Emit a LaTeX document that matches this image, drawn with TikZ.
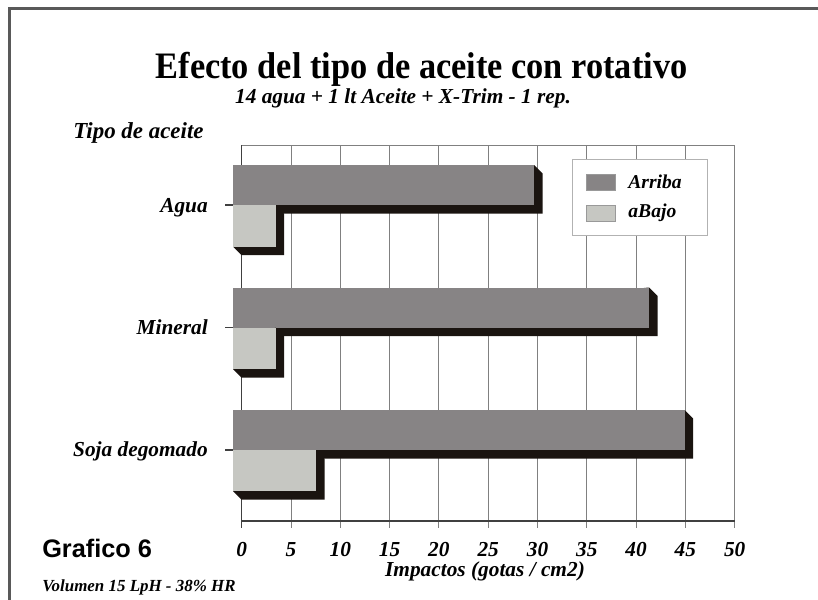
\documentclass[tikz,border=0pt]{standalone}
\usepackage{fontspec}
\setmainfont{Liberation Serif}
\newfontfamily\sansnegrita{Liberation Sans}
\newfontfamily\condensada[FakeStretch=0.92]{Liberation Serif}
\usetikzlibrary{positioning}
\definecolor{colorArriba}{RGB}{135,132,133}
\definecolor{colorAbajo}{RGB}{198,199,194}
\definecolor{colorSombra}{RGB}{26,20,16}
\tikzstyle{etiqueta} = [font=\bfseries\itshape\fontsize{16}{18}\selectfont, inner sep=0pt]
\tikzstyle{rejilla} = [draw=black!50, line width=0.7pt]
\tikzstyle{eje} = [draw=black!75, line width=0.9pt]
\tikzstyle{muestra} = [draw=black!40, line width=0.4pt, minimum width=21.2pt, minimum height=12pt, inner sep=0pt]
% barra 3D: x0, y0, x1, y1, color
\newcommand{\barra}[5]{%
  \fill[colorSombra] (#3,#2) -- ++(8.7,8.7) -- (#3+8.7,#4+8.7) -- (#1+8.7,#4+8.7) -- (#1,#4) -- cycle;
  \fill[#5] (#1,#2) rectangle (#3,#4);
}

\begin{document}
\begin{tikzpicture}[x=0.75pt, y=-0.75pt]
        \useasboundingbox (0,0) rectangle (818,600);

        % Marco
        \draw[black!65, line width=1.6pt] (9.5,600) -- (9.5,8.5) -- (818,8.5);

        % Titulos
        \node (titulo) [inner sep=0pt, anchor=base, font=\condensada\bfseries\fontsize{28}{30}\selectfont] at (421.5,78) {Efecto del tipo de aceite con rotativo};
        \node (subtitulo) [etiqueta, anchor=base] at (403,103) {14 agua + 1 lt Aceite + X-Trim - 1 rep.};
        \node (tipo) [etiqueta, anchor=base west, font=\bfseries\itshape\fontsize{17.2}{19}\selectfont] at (73,138) {Tipo de aceite};

        % Rejilla y ejes
        \foreach \v in {5,10,...,45}
            \draw[rejilla] ({241.7+9.86*\v},145) -- ({241.7+9.86*\v},528);
        \draw[rejilla] (734.7,145) -- (734.7,528);
        \draw[rejilla] (241.7,145) -- (734.7,145);
        \draw[eje] (241.7,145) -- (241.7,528);
        \draw[eje] (241.7,521) -- (734.7,521);
        \foreach \c in {205,327.5,450}
            \draw[eje] (225,\c) -- (241.7,\c);

        % Barras
        \barra{233}{165}{534}{205}{colorArriba}
        \barra{233}{205}{275.5}{246.5}{colorAbajo}
        \barra{233}{287.5}{649}{327.5}{colorArriba}
        \barra{233}{327.5}{275.5}{369}{colorAbajo}
        \barra{233}{410}{684.5}{450}{colorArriba}
        \barra{233}{450}{316}{491}{colorAbajo}

        % Categorias
        \node (agua) [etiqueta, anchor=base east] at (208,212.5) {Agua};
        \node (mineral) [etiqueta, anchor=base east] at (208,334) {Mineral};
        \node (soja) [etiqueta, anchor=base east] at (208,456.5) {Soja degomado};

        % Eje X
        \foreach \v in {0,5,...,50}
            \node (n\v) [etiqueta, anchor=base] at ({241.7+9.86*\v},556) {\v};
        \node (impactos) [etiqueta, anchor=base] at (485,576) {Impactos (gotas / cm2)};

        % Leyenda
        \node (leyenda) [draw=black!30, fill=white, line width=0.6pt, minimum width=101pt, minimum height=57pt] at (640,197) {};
        \node (mArriba) [muestra, fill=colorArriba] at (600.8,182) {};
        \node (mAbajo) [muestra, fill=colorAbajo] at (600.8,212.9) {};
        \node (arriba) [right=9.7pt of mArriba, inner sep=0pt, font=\bfseries\itshape\fontsize{14.7}{16}\selectfont] {Arriba};
        \node (abajo) [right=9.7pt of mAbajo, inner sep=0pt, font=\bfseries\itshape\fontsize{14.7}{16}\selectfont] {aBajo};

        % Pie
        \node (grafico) [inner sep=0pt, anchor=base west, font=\sansnegrita\bfseries\fontsize{19}{21}\selectfont] at (42,557) {Grafico 6};
        \node (volumen) [inner sep=0pt, anchor=base west, font=\bfseries\itshape\fontsize{12.7}{14}\selectfont] at (42,591) {Volumen 15 LpH - 38\% HR};

\end{tikzpicture}
\end{document}
